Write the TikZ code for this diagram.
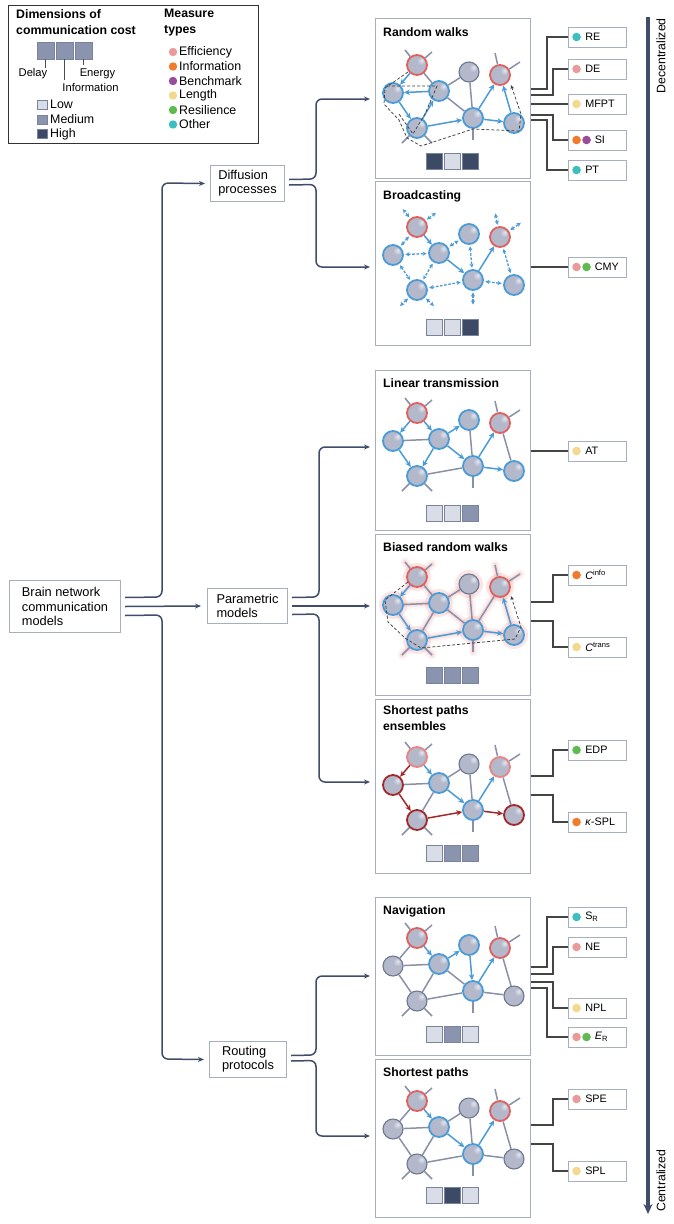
\documentclass[tikz,border=0pt]{standalone}
\usepackage{fontspec}
\setmainfont{Liberation Sans}
\usetikzlibrary{arrows.meta}
\pgfdeclarelayer{bg}
\pgfsetlayers{bg,main}
\definecolor{connc}{HTML}{3F4D6B}
\definecolor{panelc}{HTML}{A7AEC0}
\definecolor{nfill}{HTML}{B3B9CB}
\definecolor{nhi}{HTML}{E4E7EF}
\definecolor{nlo}{HTML}{9DA4BA}
\definecolor{ngray}{HTML}{6F7891}
\definecolor{nblue}{HTML}{4A9BD6}
\definecolor{nred}{HTML}{E0605E}
\definecolor{nlred}{HTML}{EB8483}
\definecolor{ndred}{HTML}{A3282C}
\definecolor{egray}{HTML}{8990A8}
\definecolor{costL}{HTML}{D9DDE7}
\definecolor{costM}{HTML}{8B94AE}
\definecolor{costH}{HTML}{3C4A66}
\definecolor{cboxd}{HTML}{7A839C}
\definecolor{cEff}{HTML}{EB9A9C}
\definecolor{cInf}{HTML}{F07B2A}
\definecolor{cBen}{HTML}{9A4C9C}
\definecolor{cLen}{HTML}{F4D88C}
\definecolor{cRes}{HTML}{5DBB51}
\definecolor{cOth}{HTML}{3DBFBE}
\definecolor{mlc}{HTML}{444444}
\definecolor{glowc}{HTML}{F29A9A}
\pgfdeclareradialshading{ballsh}{\pgfpoint{12bp}{12bp}}{color(0bp)=(nhi); color(10bp)=(nfill); color(30bp)=(nfill); color(48bp)=(nlo); color(70bp)=(nlo)}
\newcommand\FMain{\fontsize{12.8}{14.3}\selectfont}
\newcommand\FTitle{\fontsize{12.2}{16}\selectfont\bfseries}
\newcommand\FMeas{\fontsize{10.8}{13}\selectfont}
\newcommand\FLeg{\fontsize{12.4}{14.5}\selectfont}
\newcommand\FLegB{\fontsize{12.3}{16}\selectfont\bfseries}
\newcommand\FLegS{\fontsize{11.2}{13}\selectfont}
\newcommand\FSide{\fontsize{12.3}{14}\selectfont}
\newcommand\drawnet[9]{%
 \node[#2] (#1A) at (42,43) {};
 \node[#3] (#1B) at (18,71) {};
 \node[#4] (#1C) at (64,69) {};
 \node[#5] (#1D) at (94,50) {};
 \node[#6] (#1E) at (42,106) {};
 \node[#7] (#1F) at (98,96) {};
 \node[#8] (#1G) at (125,53) {};
 \node[#9] (#1H) at (139,101) {};}
\newcommand\netstubs[2]{%
 \draw[#2] (#1A) -- ++(-12,-15);
 \draw[#2] (#1A) -- ++(15,-13);
 \draw[#2] (#1E) -- ++(-15,15);
 \draw[#2] (#1E) -- ++(15,15);
 \draw[#2] (#1F) -- ++(0,22);
 \draw[#2] (#1G) -- ++(-5,-22);
 \draw[#2] (#1G) -- ++(20,-13);}
\newcommand\costsq[5]{%
 \draw[cbox,fill=#3] (#1,#2) rectangle ++(16,16);
 \draw[cbox,fill=#4] (#1+18,#2) rectangle ++(16,16);
 \draw[cbox,fill=#5] (#1+36,#2) rectangle ++(16,16);}
\newcommand\measA[4]{%
 \node[mbox] (#1) at (597,#2) {};
 \fill[#3] ([xshift=9pt]#1.west) circle (4.3pt);
 \node[mtxt] at ([xshift=17.5pt]#1.west) {#4};}
\newcommand\measB[5]{%
 \node[mbox] (#1) at (597,#2) {};
 \fill[#3] ([xshift=9pt]#1.west) circle (4.3pt);
 \fill[#4] ([xshift=19pt]#1.west) circle (4.3pt);
 \node[mtxt] at ([xshift=27pt]#1.west) {#5};}
\begin{document}
\begin{tikzpicture}[x=1pt,y=-1pt,
 nd/.style={circle, minimum size=20pt, inner sep=0pt, shading=ballsh, draw=ngray, line width=1.1pt},
 ndB/.style={nd, draw=nblue, line width=1.8pt},
 ndR/.style={nd, draw=nred, line width=1.8pt},
 ndL/.style={nd, draw=nlred, line width=1.8pt},
 ndD/.style={nd, draw=ndred, line width=1.8pt},
 ed/.style={draw=egray, line width=1.5pt},
 ba/.style={draw=nblue, line width=1.5pt, -{Stealth[length=6pt,width=5.5pt]}},
 ra/.style={draw=ndred, line width=1.5pt, -{Stealth[length=6pt,width=5.5pt]}},
 bd/.style={draw=nblue, line width=1.3pt, dash pattern=on 2.6pt off 1.6pt, {Stealth[length=4.2pt,width=4.2pt]}-{Stealth[length=4.2pt,width=4.2pt]}, shorten <=1.5pt, shorten >=1.5pt},
 trail/.style={draw=black!75, line width=0.75pt, dash pattern=on 3pt off 2pt},
 trailar/.style={trail, -{Stealth[length=4pt,width=3.5pt]}},
 glowA/.style={draw=glowc, line width=9pt, opacity=0.12, line cap=round},
 glowB/.style={draw=glowc, line width=4.5pt, opacity=0.22, line cap=round},
 panel/.style={draw=panelc, line width=1pt, anchor=north west, inner sep=0pt, minimum width=155pt},
 lbox/.style={draw=panelc, line width=1pt, align=left, anchor=north west, font=\FMain, inner sep=0pt},
 conn/.style={draw=connc, line width=1.5pt, rounded corners=6pt, -{Stealth[length=6pt,width=5pt]}},
 mline/.style={draw=mlc, line width=1.1pt},
 mbox/.style={draw=panelc, line width=0.9pt, minimum width=58pt, minimum height=20pt, inner sep=0pt},
 mtxt/.style={anchor=west, inner sep=0pt, font=\FMeas},
 cbox/.style={draw=cboxd, line width=0.8pt},
 ttl/.style={anchor=west, inner sep=0pt, font=\FTitle}]
\begin{pgfonlayer}{bg}
\fill[white] (0,0) rectangle (674,1224);
\end{pgfonlayer}
\useasboundingbox (0,0) rectangle (674,1224);

% ---------- legend ----------
\node[draw=black!80, line width=1pt, anchor=north west, minimum width=250pt, minimum height=138pt, inner sep=0pt] (leg) at (8,5) {};
\node[anchor=north west, align=left, inner sep=0pt, font=\FLegB] (legd) at (16,9) {Dimensions of\\communication cost};
\node[anchor=north west, align=left, inner sep=0pt, font=\FLegB] (legm) at (164,9) {Measure\\types};
\draw[cbox, fill=costM] (37,42) rectangle ++(17,17);
\draw[cbox, fill=costM] (56,42) rectangle ++(17,17);
\draw[cbox, fill=costM] (75,42) rectangle ++(17,17);
\draw[black!70, line width=0.8pt] (45.5,59) -- (45.5,68);
\draw[black!70, line width=0.8pt] (64.5,59) -- (64.5,80);
\draw[black!70, line width=0.8pt] (83.5,59) -- (83.5,65);
\node[font=\FLegS, inner sep=0pt] (lgdelay) at (33,74) {Delay};
\node[font=\FLegS, inner sep=0pt] (lgenergy) at (97.5,74) {Energy};
\node[font=\FLegS, inner sep=0pt] (lginfo) at (90.5,87) {Information};
\draw[cbox, fill=costL] (37,100) rectangle ++(10,9);
\draw[cbox, fill=costM] (37,115) rectangle ++(10,9);
\draw[cbox, fill=costH] (37,129) rectangle ++(10,9);
\node[anchor=west, inner sep=0pt, font=\FLeg] (lglow) at (50,104.5) {Low};
\node[anchor=west, inner sep=0pt, font=\FLeg] (lgmed) at (50,119.5) {Medium};
\node[anchor=west, inner sep=0pt, font=\FLeg] (lghigh) at (50,134) {High};
\fill[cEff] (173,52) circle (4.2pt);
\fill[cInf] (173,66.5) circle (4.2pt);
\fill[cBen] (173,81) circle (4.2pt);
\fill[cLen] (173,95.5) circle (4.2pt);
\fill[cRes] (173,110) circle (4.2pt);
\fill[cOth] (173,124.5) circle (4.2pt);
\node[anchor=west, inner sep=0pt, font=\FLeg] (lm1) at (179,52) {Efficiency};
\node[anchor=west, inner sep=0pt, font=\FLeg] (lm2) at (179,66.5) {Information};
\node[anchor=west, inner sep=0pt, font=\FLeg] (lm3) at (179,81) {Benchmark};
\node[anchor=west, inner sep=0pt, font=\FLeg] (lm4) at (179,95.5) {Length};
\node[anchor=west, inner sep=0pt, font=\FLeg] (lm5) at (179,110) {Resilience};
\node[anchor=west, inner sep=0pt, font=\FLeg] (lm6) at (179,124.5) {Other};

% ---------- left boxes ----------
\node[lbox, minimum width=111pt, minimum height=52pt] (brain) at (9,580) {Brain network\\communication\\models};
\node[lbox, minimum width=74pt, minimum height=36pt] (dif) at (210,165) {Diffusion\\processes};
\node[lbox, minimum width=80pt, minimum height=35pt] (par) at (207,588) {Parametric\\models};
\node[lbox, minimum width=77pt, minimum height=36pt] (rout) at (209,1041) {Routing\\protocols};

% ---------- panels ----------
\node[panel, minimum height=160pt] (prw) at (375,18) {};
\node[panel, minimum height=164pt] (pbc) at (375,181) {};
\node[panel, minimum height=160pt] (plt) at (375,370) {};
\node[panel, minimum height=161pt] (pbr) at (375,534) {};
\node[panel, minimum height=174pt] (pse) at (375,699) {};
\node[panel, minimum height=158pt] (pnv) at (375,897) {};
\node[panel, minimum height=158pt] (psp) at (375,1059) {};
\node[ttl] at (383,32) {Random walks};
\node[ttl] at (383,196) {Broadcasting};
\node[ttl] at (383,383) {Linear transmission};
\node[ttl] at (383,547) {Biased random walks};
\node[ttl, anchor=north west, align=left] at (383,705) {Shortest paths\\ensembles};
\node[ttl] at (383,911) {Navigation};
\node[ttl] at (383,1073) {Shortest paths};

% ---------- main connectors ----------
\draw[conn] ([xshift=4pt,yshift=9pt]brain.east) -- (162,597) -- (162,183) -- ([xshift=-5pt]dif.west);
\draw[conn] ([xshift=4pt]brain.east) -- ([xshift=-6pt]par.west);
\draw[conn] ([xshift=4pt,yshift=-9pt]brain.east) -- (162,615) -- (162,1059) -- ([xshift=-5pt]rout.west);
\draw[conn, shorten >=5pt] ([xshift=4pt,yshift=4pt]dif.east) -- (316,179) -- (316,99) -- (prw.west |- 0,99);
\draw[conn, shorten >=5pt] ([xshift=4pt,yshift=-1.5pt]dif.east) -- (316,184.5) -- (316,267) -- (pbc.west |- 0,267);
\draw[conn, shorten >=5pt] ([xshift=4pt,yshift=8.5pt]par.east) -- (319,597) -- (319,447) -- (plt.west |- 0,447);
\draw[conn, shorten >=5pt] ([xshift=4pt]par.east) -- (pbr.west |- par.east);
\draw[conn, shorten >=5pt] ([xshift=4pt,yshift=-8.5pt]par.east) -- (319,614) -- (319,782) -- (pse.west |- 0,782);
\draw[conn, shorten >=5pt] ([xshift=4pt,yshift=4pt]rout.east) -- (316,1055) -- (316,976) -- (pnv.west |- 0,976);
\draw[conn, shorten >=5pt] ([xshift=4pt,yshift=-1.5pt]rout.east) -- (316,1060.5) -- (316,1136) -- (psp.west |- 0,1136);

% ---------- panel 1: random walks ----------
\begin{scope}[shift={(375,22)}]
\drawnet{r}{ndR}{ndB}{ndB}{nd}{ndB}{ndB}{ndR}{ndB}
\draw[ed] (rA) -- (rC); \draw[ed] (rC) -- (rD); \draw[ed] (rD) -- (rF); \draw[ed] (rC) -- (rF);
\netstubs{r}{ed}
\draw[ba] (rA) -- (rB); \draw[ba] (rC) -- (rB); \draw[ba] (rB) -- (rE); \draw[ba] (rE) -- (rC);
\draw[ba] (rE) -- (rF); \draw[ba] (rF) -- (rH); \draw[ba] (rF) -- (rG); \draw[ba] (rH) -- (rG);
\draw[trailar] (33,50) -- (10,66) -- (9,82) -- (24,98) -- (32,116) -- (46,124) -- (98,107) -- (144,109) -- (146,92) -- (136,63);
\draw[trail] (12,64) -- (62,64) -- (50,92) -- (38,112) -- (24,92);
\costsq{51}{131}{costH}{costL}{costH}
\end{scope}

% ---------- panel 2: broadcasting ----------
\begin{scope}[shift={(375,184)}]
\drawnet{b}{ndR}{ndB}{ndB}{ndB}{ndB}{ndB}{ndR}{ndB}
\draw[bd] (bA) -- (bB); \draw[bd] (bB) -- (bC); \draw[bd] (bB) -- (bE); \draw[bd] (bC) -- (bE);
\draw[bd] (bC) -- (bD); \draw[bd] (bD) -- (bF); \draw[bd] (bE) -- (bF); \draw[bd] (bF) -- (bH); \draw[bd] (bG) -- (bH);
\draw[bd] (bA) -- ++(-15,-19); \draw[bd] (bA) -- ++(20,-15);
\draw[bd] (bE) -- ++(-18,17); \draw[bd] (bE) -- ++(18,17);
\draw[bd] (bF) -- ++(0,26);
\draw[bd] (bG) -- ++(-5,-25); \draw[bd] (bG) -- ++(22,-15);
\draw[ba] (bA) -- (bC); \draw[ba] (bC) -- (bF); \draw[ba] (bF) -- (bG);
\costsq{51}{135}{costL}{costL}{costH}
\end{scope}

% ---------- panel 3: linear transmission ----------
\begin{scope}[shift={(375,370)}]
\drawnet{l}{ndR}{ndB}{ndB}{ndB}{ndB}{ndB}{ndR}{ndB}
\draw[ed] (lB) -- (lC); \draw[ed] (lD) -- (lF); \draw[ed] (lE) -- (lF); \draw[ed] (lG) -- (lH);
\netstubs{l}{ed}
\draw[ba] (lA) -- (lB); \draw[ba] (lA) -- (lC); \draw[ba] (lB) -- (lE); \draw[ba] (lC) -- (lE);
\draw[ba] (lC) -- (lD); \draw[ba] (lC) -- (lF); \draw[ba] (lF) -- (lG); \draw[ba] (lF) -- (lH);
\costsq{51}{135}{costL}{costL}{costM}
\end{scope}

% ---------- panel 4: biased random walks ----------
\begin{scope}[shift={(375,534)}]
\drawnet{w}{ndR}{ndB}{ndB}{nd}{ndB}{ndB}{ndR}{ndB}
\begin{pgfonlayer}{bg}
\foreach \u/\v in {A/B,A/C,B/C,C/D,C/E,C/F,D/F,F/G,B/E,E/F,F/H,H/G}{
 \draw[glowA] (w\u.center) -- (w\v.center);
 \draw[glowB] (w\u.center) -- (w\v.center);}
\foreach \u in {A,B,C,D,E,F,G,H}{\fill[glowc, opacity=0.25] (w\u.center) circle (14pt);}
\netstubs{w}{glowA}
\netstubs{w}{glowB}
\end{pgfonlayer}
\draw[ed] (wA) -- (wC); \draw[ed] (wB) -- (wC); \draw[ed] (wC) -- (wD); \draw[ed] (wC) -- (wE);
\draw[ed] (wC) -- (wF); \draw[ed] (wD) -- (wF); \draw[ed] (wF) -- (wG);
\netstubs{w}{ed}
\draw[ba] (wA) -- (wB); \draw[ba] (wB) -- (wE); \draw[ba] (wE) -- (wF); \draw[ba] (wF) -- (wH); \draw[ba] (wH) -- (wG);
\draw[trailar] (33,48) -- (10,66) -- (13,88) -- (30,104) -- (46,114) -- (140,105) -- (146,93) -- (136,62);
\costsq{51}{133}{costM}{costM}{costM}
\end{scope}

% ---------- panel 5: shortest paths ensembles ----------
\begin{scope}[shift={(375,714)}]
\drawnet{s}{ndL}{ndD}{ndB}{nd}{ndD}{ndB}{ndL}{ndD}
\draw[ed] (sB) -- (sC); \draw[ed] (sC) -- (sD); \draw[ed] (sC) -- (sE); \draw[ed] (sD) -- (sF); \draw[ed] (sG) -- (sH);
\netstubs{s}{ed}
\draw[ra] (sA) -- (sB); \draw[ra] (sB) -- (sE); \draw[ra] (sE) -- (sF); \draw[ra] (sF) -- (sH);
\draw[ba] (sA) -- (sC); \draw[ba] (sC) -- (sF); \draw[ba] (sF) -- (sG);
\costsq{51}{131}{costL}{costM}{costM}
\end{scope}

% ---------- panel 6: navigation ----------
\begin{scope}[shift={(375,895)}]
\drawnet{n}{ndR}{nd}{ndB}{ndB}{nd}{ndB}{ndR}{nd}
\draw[ed] (nA) -- (nB); \draw[ed] (nB) -- (nC); \draw[ed] (nB) -- (nE); \draw[ed] (nC) -- (nE);
\draw[ed] (nC) -- (nF); \draw[ed] (nE) -- (nF); \draw[ed] (nF) -- (nH); \draw[ed] (nG) -- (nH);
\netstubs{n}{ed}
\draw[ba] (nA) -- (nC); \draw[ba] (nC) -- (nD); \draw[ba] (nD) -- (nF); \draw[ba] (nF) -- (nG);
\costsq{51}{131}{costL}{costM}{costL}
\end{scope}

% ---------- panel 7: shortest paths ----------
\begin{scope}[shift={(375,1058)}]
\drawnet{t}{ndR}{nd}{ndB}{nd}{nd}{ndB}{ndR}{nd}
\draw[ed] (tA) -- (tB); \draw[ed] (tB) -- (tC); \draw[ed] (tB) -- (tE); \draw[ed] (tC) -- (tE);
\draw[ed] (tC) -- (tD); \draw[ed] (tD) -- (tF); \draw[ed] (tE) -- (tF); \draw[ed] (tF) -- (tH); \draw[ed] (tG) -- (tH);
\netstubs{t}{ed}
\draw[ba] (tA) -- (tC); \draw[ba] (tC) -- (tF); \draw[ba] (tF) -- (tG);
\costsq{51}{129}{costL}{costH}{costL}
\end{scope}

% ---------- measure boxes ----------
\measA{mRE}{37}{cOth}{RE}
\measA{mDE}{69}{cEff}{DE}
\measA{mMFPT}{104}{cLen}{MFPT}
\measB{mSI}{140}{cInf}{cBen}{SI}
\measA{mPT}{170}{cOth}{PT}
\measB{mCMY}{267}{cEff}{cRes}{CMY}
\measA{mAT}{451}{cLen}{AT}
\measA{mCinfo}{575}{cInf}{\textit{C}\textsuperscript{info}}
\measA{mCtrans}{647}{cLen}{\textit{C}\textsuperscript{trans}}
\measA{mEDP}{750}{cRes}{EDP}
\measA{mKSPL}{822}{cInf}{\textit{κ}-SPL}
\measA{mSR}{917}{cOth}{S\textsubscript{R}}
\measA{mNE}{947}{cEff}{NE}
\measA{mNPL}{1008}{cLen}{NPL}
\measB{mER}{1037}{cEff}{cRes}{\textit{E}\textsubscript{R}}
\measA{mSPE}{1099}{cEff}{SPE}
\measA{mSPL}{1171}{cLen}{SPL}

% ---------- measure connectors ----------
\draw[mline] (prw.east |- 0,89) -- (547,89) |- (mRE.west);
\draw[mline] (prw.east |- 0,95) -- (553,95) |- (mDE.west);
\draw[mline] (prw.east |- mMFPT.west) -- (mMFPT.west);
\draw[mline] (prw.east |- 0,115) -- (553,115) |- (mSI.west);
\draw[mline] (prw.east |- 0,120) -- (547,120) |- (mPT.west);
\draw[mline] (pbc.east |- mCMY.west) -- (mCMY.west);
\draw[mline] (plt.east |- mAT.west) -- (mAT.west);
\draw[mline] (pbr.east |- 0,602) -- (553,602) |- (mCinfo.west);
\draw[mline] (pbr.east |- 0,621) -- (553,621) |- (mCtrans.west);
\draw[mline] (pse.east |- 0,776) -- (553,776) |- (mEDP.west);
\draw[mline] (pse.east |- 0,795) -- (553,795) |- (mKSPL.west);
\draw[mline] (pnv.east |- 0,967) -- (547,967) |- (mSR.west);
\draw[mline] (pnv.east |- 0,974) -- (553,974) |- (mNE.west);
\draw[mline] (pnv.east |- 0,982) -- (553,982) |- (mNPL.west);
\draw[mline] (pnv.east |- 0,988) -- (547,988) |- (mER.west);
\draw[mline] (psp.east |- 0,1125) -- (553,1125) |- (mSPE.west);
\draw[mline] (psp.east |- 0,1144) -- (553,1144) |- (mSPL.west);

% ---------- decentralized / centralized axis ----------
\coordinate (vtop) at (648,17);
\coordinate (vbot) at (648,1214);
\draw[draw=connc, line width=3.5pt, -{Stealth[length=10pt,width=9pt]}] (vtop) -- (vbot);
\node[rotate=90, anchor=east, inner sep=0pt, font=\FSide] (dec) at (661,18) {Decentralized};
\node[rotate=90, anchor=west, inner sep=0pt, font=\FSide] (cen) at (661,1212) {Centralized};
\end{tikzpicture}
\end{document}
